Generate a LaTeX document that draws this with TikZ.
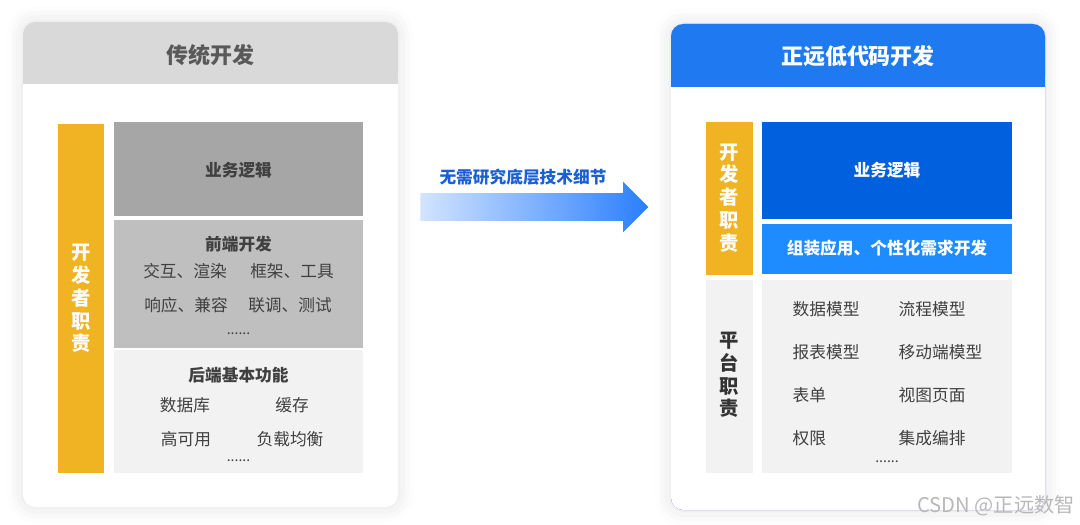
\documentclass[tikz,border=0pt]{standalone}
\usepackage{fontspec}
\setmainfont{Noto Sans CJK SC}
\usetikzlibrary{shapes,arrows,positioning,shadows.blur}
\usepackage{xcolor}

\definecolor{headgray}{HTML}{D9D9D9}
\definecolor{headtextgray}{HTML}{595959}
\definecolor{bargold}{HTML}{F0B322}
\definecolor{grayA}{HTML}{A6A6A6}
\definecolor{grayB}{HTML}{BFBFBF}
\definecolor{grayC}{HTML}{F2F2F2}
\definecolor{textdark}{HTML}{404040}
\definecolor{headblue}{HTML}{1F7AF2}
\definecolor{deepblue}{HTML}{0060DE}
\definecolor{midblue}{HTML}{1E8CFF}
\definecolor{arrowlight}{HTML}{D2E4FF}
\definecolor{arrowblue}{HTML}{2A7EFF}
\definecolor{labelblue}{HTML}{1A5FD6}

\begin{document}
\begin{tikzpicture}[
    plaincard/.style={rectangle, rounded corners=7pt, fill=white, minimum width=7.5cm, minimum height=9.7cm, inner sep=0pt},
    card/.style={plaincard, blur shadow={shadow xshift=0pt, shadow yshift=0pt, shadow blur radius=9pt, shadow opacity=12}},
    header/.style={rectangle, rounded corners=7pt, minimum width=7.5cm, minimum height=1.24cm, inner sep=0pt},
    block/.style={rectangle, inner sep=0pt, minimum width=4.98cm},
    bar/.style={rectangle, inner sep=0pt, minimum width=0.93cm},
    headtext/.style={font=\bfseries\fontsize{12.5}{15}\selectfont},
    boxtitle/.style={font=\bfseries\fontsize{9.5}{11}\selectfont, text=textdark},
    item/.style={font=\fontsize{9.5}{11}\selectfont, text=textdark},
    ellip/.style={font=\fontsize{8}{10}\selectfont, text=textdark},
    vtext/.style={align=center, font=\bfseries\fontsize{11}{13}\selectfont}
]
\useasboundingbox (0,0) rectangle (21.6,-10.48);

\node[card] (lcard) at (4.21,-5.29) {};
\node[header, fill=headgray] (lhead) at (4.21,-1.06) {};
\fill[headgray] (lhead.west) rectangle (lhead.south east);
\node[headtext, text=headtextgray] (ltitle) at (4.21,-1.1) {传统开发};

\node[bar, fill=bargold, minimum height=6.98cm] (lbar) at (1.62,-5.97) {};
\node[vtext, text=white] (lbartext) at (1.62,-5.97) {开\\发\\者\\职\\责};

\node[block, fill=grayA, minimum height=1.88cm] (logic) at (4.77,-3.38) {};
\node[block, fill=grayB, minimum height=2.56cm] (front) at (4.77,-5.68) {};
\node[block, fill=grayC, minimum height=2.46cm] (back) at (4.77,-8.23) {};

\node[boxtitle] (logictext) at (4.77,-3.4) {业务逻辑};
\node[boxtitle] (fronttitle) at (4.77,-4.88) {前端开发};
\node[item] (f1) at (3.70,-5.42) {交互、渲染};
\node[item] (f2) at (5.84,-5.42) {框架、工具};
\node[item] (f3) at (3.72,-6.10) {响应、兼容};
\node[item] (f4) at (5.80,-6.10) {联调、测试};
\node[ellip] (f5) at (4.77,-6.68) {......};
\node[boxtitle] (backtitle) at (4.77,-7.50) {后端基本功能};
\node[item] (b1) at (3.70,-8.10) {数据库};
\node[item] (b2) at (5.84,-8.10) {缓存};
\node[item] (b3) at (3.72,-8.78) {高可用};
\node[item] (b4) at (5.80,-8.78) {负载均衡};
\node[ellip] (b5) at (4.77,-9.22) {......};

\node[single arrow, minimum height=4.56cm, minimum width=1.0cm, inner sep=0.27cm, single arrow head extend=0.23cm, left color=arrowlight, right color=arrowblue, anchor=tail] (shift) at (8.40,-4.14) {};
\node[boxtitle, text=labelblue] (shifttext) at (10.46,-3.54) {无需研究底层技术细节};

\begin{scope}[every shadow/.style={fill=blue!80}]
\node[card, minimum width=7.48cm, minimum height=9.72cm] (rglow) at (17.16,-5.34) {};
\end{scope}
\node[plaincard, minimum width=7.48cm, minimum height=9.72cm] (rcard) at (17.16,-5.34) {};
\node[header, fill=headblue, minimum width=7.48cm, minimum height=1.26cm] (rhead) at (17.16,-1.11) {};
\fill[headblue] (rhead.west) rectangle (rhead.south east);
\node[headtext, text=white] (rtitle) at (17.16,-1.12) {正远低代码开发};

\node[bar, fill=bargold, minimum height=3.06cm] (rbar) at (14.59,-3.97) {};
\node[vtext, text=white] (rbartext) at (14.59,-3.96) {开\\发\\者\\职\\责};
\node[bar, fill=grayC, minimum height=3.86cm] (pbar) at (14.59,-7.53) {};
\node[vtext, text=textdark!80!black] (pbartext) at (14.59,-7.50) {平\\台\\职\\责};

\node[block, fill=deepblue, minimum width=5.0cm, minimum height=1.94cm] (rlogic) at (17.74,-3.41) {};
\node[block, fill=midblue, minimum width=5.0cm, minimum height=1.0cm] (custom) at (17.74,-4.98) {};
\node[block, fill=grayC, minimum width=5.0cm, minimum height=3.86cm] (platform) at (17.74,-7.53) {};

\node[boxtitle, text=white] (rlogictext) at (17.74,-3.4) {业务逻辑};
\node[boxtitle, text=white] (customtext) at (17.74,-4.96) {组装应用、个性化需求开发};
\node[item, anchor=west] (p1) at (15.73,-6.18) {数据模型};
\node[item, anchor=west] (p2) at (17.85,-6.18) {流程模型};
\node[item, anchor=west] (p3) at (15.73,-7.04) {报表模型};
\node[item, anchor=west] (p4) at (17.85,-7.04) {移动端模型};
\node[item, anchor=west] (p5) at (15.73,-7.90) {表单};
\node[item, anchor=west] (p6) at (17.85,-7.90) {视图页面};
\node[item, anchor=west] (p7) at (15.73,-8.76) {权限};
\node[item, anchor=west] (p8) at (17.85,-8.76) {集成编排};
\node[ellip] (p9) at (17.74,-9.24) {......};

\node[font=\fontsize{11.5}{13}\selectfont, text=black!28] (mark) at (19.92,-10.12) {CSDN @正远数智};

\end{tikzpicture}
\end{document}
